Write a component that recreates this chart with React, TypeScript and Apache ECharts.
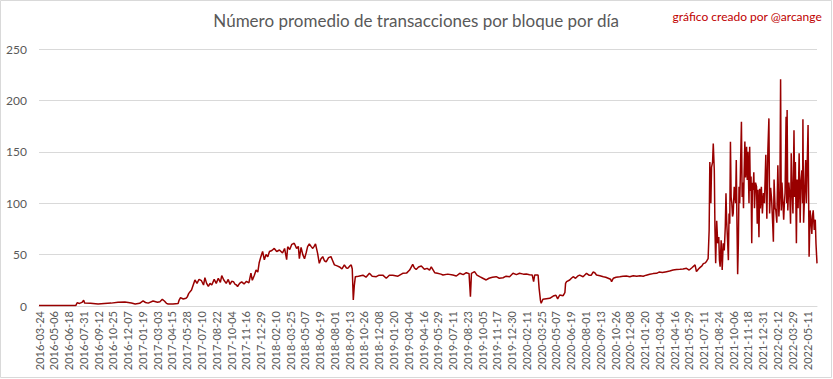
import React, { useEffect, useRef } from "react";
import * as echarts from "echarts";

// Chart texts
const titleText = "Número promedio de transacciones por bloque por día";
const creditText = "gráfico creado por @arcange";

// Category axis: daily dates starting 2016-03-24 (a few days are absent in the source)
const startDate = "2016-03-24";
const dayCount = 2266;
const missingDates = ["2021-08-01", "2022-03-01", "2022-03-02"];
const labelEvery = 43;

// Y axis ticks
const yTicks = [0, 50, 100, 150, 200, 250];

const sampleIndex = [
  0, 107, 111, 118, 125, 130, 133, 150, 172, 190, 210, 230, 250, 269, 280, 293, 303, 310, 318, 332,
  345, 352, 359, 365, 371, 376, 390, 405, 408, 412, 420, 428, 432, 436, 444, 449, 454, 460, 466, 473,
  479, 483, 488, 493, 498, 503, 510, 516, 522, 528, 532, 538, 545, 551, 556, 561, 566, 571, 575, 578,
  584, 590, 597, 604, 611, 617, 621, 627, 632, 637, 641, 646, 651, 656, 661, 666, 671, 678, 685, 692,
  700, 709, 715, 721, 724, 730, 736, 743, 750, 755, 758, 763, 768, 773, 778, 782, 787, 792, 797, 801,
  805, 811, 816, 821, 826, 831, 836, 843, 850, 855, 860, 868, 875, 882, 889, 895, 899, 905, 909, 912,
  915, 918, 921, 930, 943, 952, 962, 970, 982, 990, 1001, 1011, 1020, 1030, 1045, 1059, 1070, 1079, 1088, 1093,
  1098, 1105, 1113, 1122, 1130, 1137, 1142, 1152, 1160, 1170, 1176, 1190, 1205, 1215, 1225, 1235, 1244, 1252, 1256, 1259,
  1268, 1275, 1283, 1292, 1302, 1310, 1320, 1331, 1340, 1351, 1360, 1370, 1380, 1390, 1399, 1410, 1419, 1428, 1436, 1440,
  1443, 1453, 1456, 1460, 1462, 1467, 1477, 1487, 1497, 1505, 1510, 1516, 1526, 1531, 1533, 1536, 1545, 1550, 1555, 1562,
  1568, 1574, 1584, 1594, 1601, 1608, 1613, 1618, 1623, 1633, 1643, 1650, 1657, 1664, 1667, 1672, 1680, 1691, 1700, 1710,
  1720, 1730, 1740, 1750, 1759, 1768, 1778, 1788, 1798, 1805, 1815, 1827, 1836, 1846, 1856, 1866, 1875, 1885, 1893, 1900,
  1910, 1914, 1920, 1924, 1930, 1934, 1940, 1944, 1948, 1951, 1953, 1956, 1958, 1961, 1963, 1966, 1968, 1970, 1973, 1976,
  1979, 1981, 1983, 1986, 1989, 1992, 1995, 1998, 2000, 2002, 2005, 2007, 2009, 2011, 2013, 2015, 2017, 2019, 2021, 2024,
  2026, 2028, 2030, 2032, 2034, 2036, 2038, 2040, 2042, 2045, 2047, 2049, 2051, 2053, 2055, 2057, 2060, 2062, 2064, 2067,
  2069, 2071, 2073, 2075, 2077, 2079, 2081, 2083, 2086, 2089, 2091, 2093, 2096, 2098, 2100, 2103, 2106, 2109, 2112, 2116,
  2119, 2122, 2125, 2127, 2130, 2133, 2136, 2138, 2140, 2143, 2145, 2148, 2151, 2154, 2157, 2159, 2161, 2163, 2165, 2168,
  2170, 2172, 2175, 2177, 2178, 2180, 2183, 2186, 2188, 2190, 2192, 2195, 2198, 2200, 2202, 2205, 2207, 2210, 2213, 2216,
  2218, 2221, 2223, 2224, 2226, 2229, 2232, 2234, 2236, 2239, 2242, 2245, 2247, 2250, 2252, 2254, 2257, 2260, 2262, 2265,
];

const sampleValue = [
  0.4, 0.4, 3.2, 2.5, 3.5, 5.5, 2.8, 2.6, 1.9, 2.4, 2.8, 3.6, 3.9, 2.9, 1.9, 2.6, 4.9, 3.4, 2.8, 4.9,
  3.6, 4.2, 6.5, 4.9, 2.6, 1.9, 1.9, 2.4, 5.8, 8.1, 6.8, 7.5, 9.1, 12.3, 15.6, 20.4, 25.3, 22, 26, 24.6,
  20.4, 27.5, 22, 19, 22, 20.4, 25.9, 22, 27, 23, 29.5, 25.3, 22, 25.9, 21, 24, 23.7, 21, 20.4, 19,
  22, 23.5, 21.5, 24, 22.5, 32, 25, 30, 35, 33, 42, 48, 53, 45, 50, 48, 53, 54, 56, 53,
  54.5, 51.5, 56, 45, 57.7, 55, 60, 61, 56, 58, 46, 57, 50, 46, 52, 57.7, 60.5, 58, 56, 58,
  60.5, 51.5, 41.5, 46, 48, 44, 43, 47, 48, 44, 40, 39, 38, 36, 40, 37, 36.7, 39, 40, 36,
  5.8, 20, 28.5, 29, 30, 28, 31.8, 29, 28.5, 30, 30, 27, 30, 30, 29, 31.8, 32, 35, 40.5, 37,
  35.6, 38, 38.9, 35.7, 36.6, 35, 38, 32.4, 31.8, 31, 30.1, 31, 30.1, 29.2, 31.8, 30.5, 32.4, 31.5, 9, 31.8,
  33.4, 30, 28.5, 27, 25.3, 27, 28, 28.5, 27, 27.5, 29, 28.5, 31.8, 30.5, 31.8, 31, 31.1, 30.5, 30.1, 23.7,
  30.1, 30.1, 17.2, 5.2, 2.6, 6.5, 7, 7.5, 9.7, 10.5, 7, 10.7, 10, 12.9, 22, 23.7, 25.3, 27, 28.5, 27,
  29, 30.1, 28.5, 31.8, 30, 30, 33, 32.4, 30.1, 29.5, 28.5, 28, 27, 26, 23.7, 27, 28, 28.5, 29, 29.2,
  28.5, 29.5, 29, 29.5, 29, 30, 30.8, 31.5, 31.8, 33, 32.5, 33.4, 34, 35, 35.5, 35.7, 36, 36.7, 35, 37,
  40, 33.4, 36, 37.3, 39, 41.2, 42, 43.8, 46, 73.6, 140, 100, 135, 140, 158, 132, 74, 41.5, 83, 61,
  67, 44.6, 38.3, 64, 35, 61, 54, 77, 109.6, 83, 61, 44.6, 90, 80, 159.8, 106, 100, 87, 90, 116,
  116, 100, 142, 80, 31, 60, 116, 100, 130, 179.3, 106, 120, 95, 132, 160, 125, 155, 122.6, 150, 100,
  155, 112, 126, 61, 120, 113, 130, 95, 120, 116, 80, 113, 67, 114, 95, 116, 90, 110, 100, 147,
  85, 152, 182.5, 90, 115, 103, 80, 62.5, 123, 95, 93.4, 81, 137, 87, 110, 220.5, 93, 120, 106, 84,
  100, 109.6, 184, 100, 190.6, 93, 120, 106, 80, 148.5, 116, 90, 171, 106, 140, 61, 123, 95, 148.5, 81,
  120, 132, 100, 181.6, 81, 110, 142, 100, 100, 176, 48, 93, 85, 70, 88, 93, 74, 84, 61, 41.5,
];

function buildCategories(): string[] {
  const out: string[] = [];
  const d = new Date(startDate + "T00:00:00Z");
  while (out.length < dayCount) {
    const s = d.toISOString().slice(0, 10);
    if (!missingDates.includes(s)) out.push(s);
    d.setUTCDate(d.getUTCDate() + 1);
  }
  return out;
}

export default function App() {
  const ref = useRef<HTMLDivElement>(null);
  useEffect(() => {
    document.body.style.margin = "0";
    if (!ref.current) return;
    const chart = echarts.init(ref.current, undefined, { renderer: "svg" });
    const categories = buildCategories();
    const seriesData = sampleIndex.map((idx, i) => [categories[idx], sampleValue[i]]);
    const font = "Lato, 'Open Sans', sans-serif";
    chart.setOption({
      animation: false,
      backgroundColor: "#ffffff",
      textStyle: { fontFamily: font },
      graphic: [
        {
          type: "rect",
          shape: { x: 0.5, y: 0.5, width: 831, height: 377 },
          style: { fill: "none", stroke: "#d9d9d9", lineWidth: 1 },
          silent: true,
        },
        {
          type: "text",
          left: "center",
          top: 12,
          style: { text: titleText, fontSize: 17, fill: "#595959", fontFamily: font },
        },
        {
          type: "text",
          right: 11,
          top: 10,
          style: { text: creditText, fontSize: 12, fill: "#c00000", fontFamily: font },
        },
      ],
      grid: { left: 39, right: 16, top: 49, bottom: 73, containLabel: false },
      xAxis: {
        type: "category",
        data: categories,
        boundaryGap: false,
        axisLine: { show: true, lineStyle: { color: "#d9d9d9" } },
        axisTick: { show: false },
        axisLabel: {
          interval: labelEvery - 1,
          rotate: 90,
          fontSize: 11,
          color: "#595959",
          margin: 5,
          fontFamily: font,
        },
        splitLine: { show: false },
      },
      yAxis: {
        type: "value",
        min: yTicks[0],
        max: yTicks[yTicks.length - 1],
        interval: 50,
        axisLine: { show: false },
        axisTick: { show: false },
        axisLabel: { fontSize: 12, color: "#595959", margin: 12, fontFamily: font },
        splitLine: { lineStyle: { color: "#d9d9d9", width: 1 } },
      },
      series: [
        {
          type: "line",
          data: seriesData,
          symbol: "none",
          lineStyle: { color: "#990000", width: 1.5 },
          itemStyle: { color: "#990000" },
        },
      ],
    });
    return () => chart.dispose();
  }, []);
  return <div ref={ref} style={{ width: 833, height: 379 }} />;
}
